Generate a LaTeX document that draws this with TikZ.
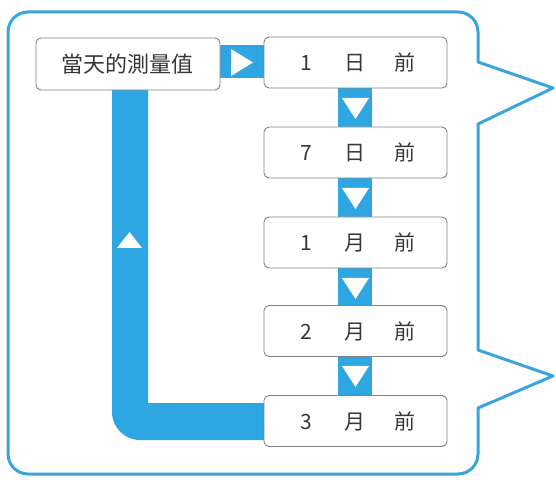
\documentclass[tikz,border=0pt]{standalone}
\usepackage{fontspec}
\setmainfont{Noto Sans CJK TC}
\newfontfamily\cjk{Noto Sans CJK TC}
\definecolor{bandblue}{RGB}{45,166,226}
\definecolor{frameblue}{RGB}{58,165,220}
\definecolor{boxgray}{RGB}{130,130,130}
\definecolor{textgray}{RGB}{55,55,55}
\begin{document}
\begin{tikzpicture}[x=1pt,y=1pt,
  stepbox/.style={draw=boxgray,line width=0.9pt,fill=white,rounded corners=5pt,
    minimum width=183pt,minimum height=51pt,inner sep=0pt,text=textgray,
    font=\cjk\fontsize{21}{21}\selectfont},
  band/.style={fill=bandblue,draw=none},
  tri/.style={fill=white,draw=none}
]
\useasboundingbox (0,0) rectangle (556,479);
% frame
\draw[frameblue,line width=3pt,line join=round]
  (8,25) -- (8,447) arc[start angle=180,end angle=90,radius=20]
  -- (458,467) arc[start angle=90,end angle=0,radius=20]
  -- (478,417) -- (553,391) -- (478,355)
  -- (478,129) -- (553,103) -- (478,71)
  -- (478,25) arc[start angle=0,end angle=-90,radius=20]
  -- (28,5) arc[start angle=270,end angle=180,radius=20] -- cycle;
% coordinates for bands
\coordinate (lbTop) at (112,389);
\coordinate (lbIn) at (148,76);
% L band
\fill[bandblue] (112,389) -- (112,67) arc[start angle=180,end angle=270,radius=28]
  -- (264,39) -- (264,76) -- (148,76) -- (148,389) -- cycle;
\fill[tri] (117,231) -- (142,231) -- (129.5,247) -- cycle;
% horizontal connector
\fill[band] (218,401) rectangle (266,434);
\fill[tri] (231,403) -- (231,430) -- (253,416.5) -- cycle;
% vertical connectors
\foreach \yt/\yb in {392/350, 302/260, 212/170, 124/82}{
  \fill[band] (338,\yt) rectangle (372,\yb);
  \pgfmathsetmacro{\ym}{(\yt+\yb)/2}
  \fill[tri] (342,\ym+10) -- (369,\ym+10) -- (355.5,\ym-11) -- cycle;
}
% nodes
\node[stepbox,minimum width=184pt,minimum height=52pt,font=\cjk\fontsize{22}{22}\selectfont] (today) at (128,415) {\hspace*{-2pt}當天的測量值};
\newcommand{\threeword}[3]{\makebox[49pt]{#1}\makebox[49pt]{#2}\makebox[49pt]{#3}}
\node[stepbox] (d1) at (355.5,416.5) {\threeword{1}{日}{前}};
\node[stepbox] (d7) at (355.5,326.5) {\threeword{7}{日}{前}};
\node[stepbox] (m1) at (355.5,236.5) {\threeword{1}{月}{前}};
\node[stepbox] (m2) at (355.5,148) {\threeword{2}{月}{前}};
\node[stepbox] (m3) at (355.5,58) {\threeword{3}{月}{前}};
\end{tikzpicture}
\end{document}
